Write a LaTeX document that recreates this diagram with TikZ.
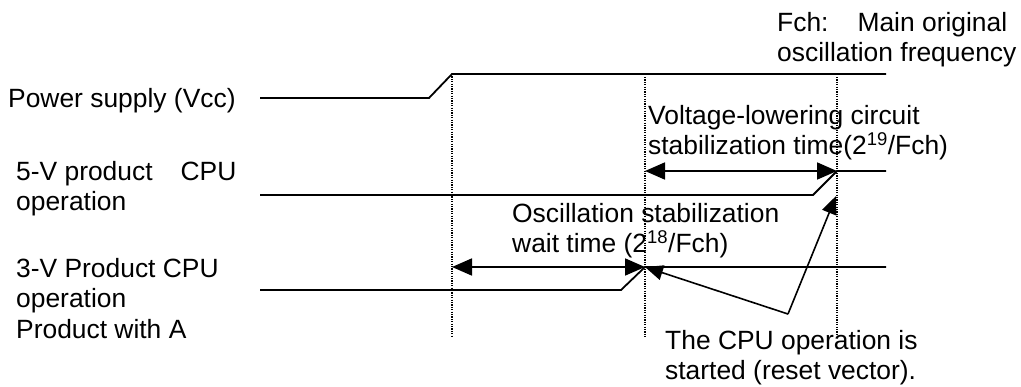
\documentclass[tikz,border=0pt]{standalone}
\usepackage{fontspec}
\setmainfont{Liberation Sans}
\usetikzlibrary{arrows.meta}
\begin{document}
\begin{tikzpicture}[x=1pt,y=-1pt,
  lbl/.style={anchor=base west,inner sep=0pt,align=left,
    font=\fontsize{26.4}{30.5}\selectfont},
  wave/.style={line width=1.8pt,line join=miter},
  guide/.style={line width=1.1pt,dash pattern=on 1.1pt off 1.3pt},
  dim/.style={line width=1.8pt,{Triangle[length=20pt,width=17pt]}-{Triangle[length=20pt,width=17pt]}},
  pointer/.style={line width=1.6pt,-{Triangle[length=18pt,width=15pt]}}]
\useasboundingbox (0,0) rectangle (1021,386);

% labels (base anchor sits on the last line)
\node[lbl] (fch)   at (777,61.5)  {Fch:\hspace{29pt}Main original\\oscillation frequency};
\node[lbl] (vcc)   at (8,107)     {Power supply (Vcc)};
\node[lbl] (cpu5)  at (16,210.5)  {5-V product\hspace{28pt}CPU\\operation};
\node[lbl] (cpu3)  at (16,338)    {3-V Product CPU\\operation\\Product with A};
\node[lbl] (vstab) at (648,154.5) {Voltage-lowering circuit\\stabilization time(2\textsuperscript{19}/Fch)};
\node[lbl] (ostab) at (512,252.5) {Oscillation stabilization\\wait time (2\textsuperscript{18}/Fch)};
\node[lbl] (start) at (665,379.5) {The CPU operation is\\started (reset vector).};

% timing marks
\coordinate (t0top) at (452,74);  \coordinate (t0bot) at (452,337);
\coordinate (t1top) at (645,77);  \coordinate (t1bot) at (645,337);
\coordinate (t2top) at (837,77);  \coordinate (t2bot) at (837,335);
\draw[guide] (t0top) -- (t0bot);
\draw[guide] (t1top) -- (t1bot);
\draw[guide] (t2top) -- (t2bot);

% power supply waveform
\coordinate (vccA) at (260,98);  \coordinate (vccB) at (429,98);
\coordinate (vccC) at (452,74);  \coordinate (vccD) at (886,74);
\draw[wave] (vccA) -- (vccB) -- (vccC) -- (vccD);

% 5-V product CPU operation waveform
\coordinate (c5A) at (260,195);  \coordinate (c5B) at (813,195);
\coordinate (c5C) at (837,171);  \coordinate (c5D) at (886,171);
\draw[wave] (c5A) -- (c5B) -- (c5C) -- (c5D);

% 3-V product CPU operation waveform
\coordinate (c3A) at (260,290);  \coordinate (c3B) at (621,290);
\coordinate (c3C) at (645,267);  \coordinate (c3D) at (886,267);
\draw[wave] (c3A) -- (c3B) -- (c3C) -- (c3D);

% stabilization intervals
\coordinate (vsL) at (645,171);
\draw[dim] (vsL) -- (c5C);
\coordinate (osL) at (452,267);
\draw[dim] (osL) -- (c3C);

% CPU start pointers
\coordinate (startV) at (788,314);
\coordinate (tip5) at (836,196);
\draw[pointer] (startV) -- (c3C);
\draw[pointer] (startV) -- (tip5);
\end{tikzpicture}
\end{document}
